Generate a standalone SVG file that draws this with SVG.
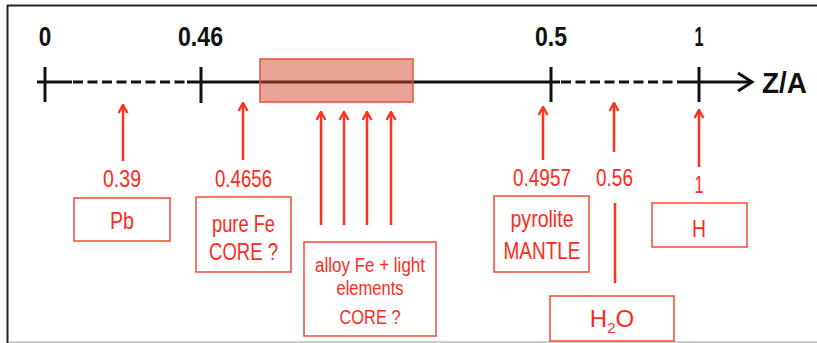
<svg xmlns="http://www.w3.org/2000/svg" width="817" height="343" viewBox="0 0 817 343">
  <defs>
    <style>
      .axis { stroke: #111; stroke-width: 3; fill: none; }
      .dash { stroke: #111; stroke-width: 3; fill: none; stroke-dasharray: 10 4.5; }
      .tick { stroke: #111; stroke-width: 3; }
      .blk { font-family: "Liberation Sans", Arial, sans-serif; font-weight: bold; fill: #111; text-anchor: middle; }
      .red { font-family: "Liberation Sans", Arial, sans-serif; fill: #ff2a1c; text-anchor: middle; }
      .arr { stroke: #ff3320; stroke-width: 2.5; fill: none; marker-end: url(#ah); }
      .box { fill: #fff; stroke: #f4553f; stroke-width: 1.6; }
    </style>
    <marker id="ah" viewBox="0 0 11 11" refX="9.5" refY="5.5" markerWidth="11" markerHeight="11" markerUnits="userSpaceOnUse" orient="auto">
      <path d="M1.5,1 L9.5,5.5 L1.5,10" fill="none" stroke="#ff3320" stroke-width="2.4" stroke-linejoin="miter"/>
    </marker>
  </defs>

  <rect x="0" y="0" width="817" height="343" fill="#fff"/>
  <g id="frame">
    <line x1="7" y1="5.5" x2="817" y2="5.5" stroke="#222" stroke-width="2"/>
    <line x1="7.5" y1="5" x2="7.5" y2="343" stroke="#222" stroke-width="2"/>
    <line x1="9" y1="342" x2="817" y2="342" stroke="#bbb" stroke-width="1.5"/>
  </g>

  <g id="axis">
    <line class="axis" x1="37" y1="82" x2="72" y2="82"/>
    <line class="dash" x1="73" y1="82" x2="187" y2="82"/>
    <line class="axis" x1="187" y1="82" x2="560" y2="82"/>
    <line class="dash" x1="561" y1="82" x2="677" y2="82"/>
    <line class="axis" x1="677" y1="82" x2="751" y2="82"/>
    <path class="axis" d="M738,73 L752,82 L738,91"/>
    <line class="tick" x1="45" y1="67" x2="45" y2="102"/>
    <line class="tick" x1="201" y1="67" x2="201" y2="103"/>
    <line class="tick" x1="551" y1="67" x2="551" y2="102"/>
    <line class="tick" x1="699" y1="67" x2="699" y2="102"/>
    <text class="blk" x="45" y="46" font-size="27" textLength="12.5" lengthAdjust="spacingAndGlyphs">0</text>
    <text class="blk" x="200.5" y="46" font-size="27" textLength="45" lengthAdjust="spacingAndGlyphs">0.46</text>
    <text class="blk" x="551" y="46" font-size="27" textLength="32" lengthAdjust="spacingAndGlyphs">0.5</text>
    <text class="blk" x="699" y="46" font-size="27" textLength="9" lengthAdjust="spacingAndGlyphs">1</text>
    <text class="blk" x="784.5" y="93" font-size="29.5" textLength="45" lengthAdjust="spacingAndGlyphs">Z/A</text>
  </g>

  <g id="core-range">
    <rect x="260" y="59" width="153" height="43" fill="#d44a30" fill-opacity="0.5" stroke="#e8503a" stroke-width="1.5"/>
  </g>

  <g id="connectors">
    <line class="arr" x1="123" y1="161" x2="123" y2="105"/>
    <line class="arr" x1="243" y1="160" x2="243" y2="103"/>
    <line class="arr" x1="321" y1="225" x2="321" y2="112"/>
    <line class="arr" x1="344" y1="225" x2="344" y2="112"/>
    <line class="arr" x1="367" y1="225" x2="367" y2="112"/>
    <line class="arr" x1="391" y1="225" x2="391" y2="112"/>
    <line class="arr" x1="543" y1="160" x2="543" y2="107"/>
    <line class="arr" x1="614" y1="152" x2="614" y2="103"/>
    <line class="arr" x1="699" y1="167" x2="699" y2="110"/>
    <line x1="615" y1="203" x2="615" y2="283" stroke="#ff3320" stroke-width="2.5"/>
  </g>

  <g id="node-pb">
    <text class="red" x="122" y="187" font-size="24" textLength="38" lengthAdjust="spacingAndGlyphs">0.39</text>
    <rect class="box" x="74" y="198" width="96" height="43"/>
    <text class="red" x="122" y="229" font-size="24" textLength="24" lengthAdjust="spacingAndGlyphs">Pb</text>
  </g>
  <g id="node-purefe">
    <text class="red" x="243.5" y="187" font-size="24" textLength="57" lengthAdjust="spacingAndGlyphs">0.4656</text>
    <rect class="box" x="196" y="197" width="95" height="75"/>
    <text class="red" x="243.5" y="232" font-size="24" textLength="63" lengthAdjust="spacingAndGlyphs">pure Fe</text>
    <text class="red" x="243.5" y="260" font-size="24" textLength="69" lengthAdjust="spacingAndGlyphs">CORE ?</text>
  </g>
  <g id="node-alloy">
    <rect class="box" x="304" y="242" width="132" height="94"/>
    <text class="red" x="370" y="272" font-size="20.5" textLength="110" lengthAdjust="spacingAndGlyphs">alloy Fe + light</text>
    <text class="red" x="370" y="295" font-size="20.5" textLength="67" lengthAdjust="spacingAndGlyphs">elements</text>
    <text class="red" x="370" y="324" font-size="20.5" textLength="61" lengthAdjust="spacingAndGlyphs">CORE ?</text>
  </g>
  <g id="node-pyrolite">
    <text class="red" x="542" y="186" font-size="24" textLength="58" lengthAdjust="spacingAndGlyphs">0.4957</text>
    <rect class="box" x="494" y="196" width="95" height="76"/>
    <text class="red" x="542" y="227" font-size="24" textLength="63" lengthAdjust="spacingAndGlyphs">pyrolite</text>
    <text class="red" x="542" y="259" font-size="24" textLength="77" lengthAdjust="spacingAndGlyphs">MANTLE</text>
  </g>
  <g id="node-h2o">
    <text class="red" x="614.5" y="186" font-size="24" textLength="37" lengthAdjust="spacingAndGlyphs">0.56</text>
    <rect class="box" x="550" y="296" width="124" height="45"/>
    <text class="red" x="612" y="327" font-size="24" text-anchor="middle">H<tspan font-size="15" dy="6">2</tspan><tspan dy="-6">O</tspan></text>
  </g>
  <g id="node-h">
    <text class="red" x="699" y="193" font-size="24" textLength="9" lengthAdjust="spacingAndGlyphs">1</text>
    <rect class="box" x="652" y="203" width="95" height="44"/>
    <text class="red" x="699" y="237" font-size="24" textLength="14" lengthAdjust="spacingAndGlyphs">H</text>
  </g>
</svg>
